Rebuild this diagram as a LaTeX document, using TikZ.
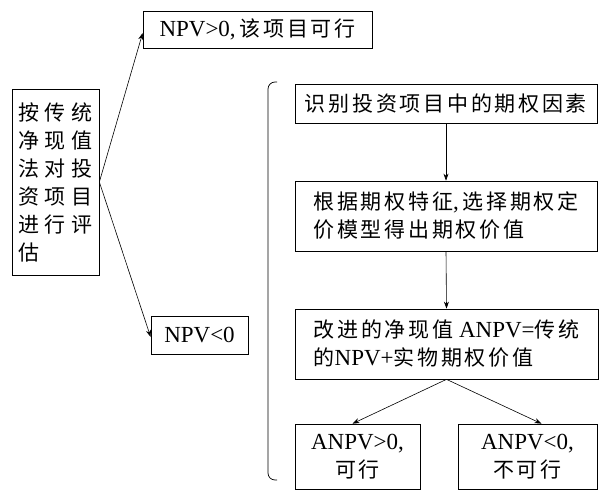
\documentclass[tikz,border=0pt]{standalone}
\usepackage{fontspec}
\setmainfont{Liberation Serif}
\newfontfamily\cjfont[LetterSpace=13]{Noto Sans CJK SC}
\newfontfamily\cjwide[LetterSpace=28]{Noto Sans CJK SC}
\newcommand\zh[1]{{\fontsize{21}{28}\selectfont\cjfont #1}}
\newcommand\zhw[1]{{\fontsize{21}{28.3}\selectfont\cjwide #1}}
\usetikzlibrary{arrows.meta,calc}
\begin{document}
\begin{tikzpicture}[x=1pt,y=-1pt,
  box/.style={draw, line width=0.7pt, inner sep=0pt, align=left,
    font=\fontsize{23}{28}\selectfont},
  arr/.style={-{Stealth[length=7pt,width=5pt]}, line width=0.6pt}]
\useasboundingbox (0,0) rectangle (599,490);

\node[box, minimum width=87, minimum height=186] (L) at (55.5,182)
  {\zhw{按传统}\\\zhw{净现值}\\\zhw{法对投}\\\zhw{资项目}\\\zhw{进行评}\\\zhw{估}};
\node[box, minimum width=229, minimum height=37] (T) at (257.5,29.5)
  {NPV>0,\,\zh{该项目可行}};
\node[box, minimum width=97, minimum height=38] (N) at (199.5,335) {NPV<0};

\node[box, minimum width=302, minimum height=39] (B1) at (446,103.5)
  {\zh{识别投资项目中的期权因素}};
\node[box, minimum width=302, minimum height=70] (B2) at (446,216)
  {\zh{根据期权特征},\,\zh{选择期权定}\\\zh{价模型得出期权价值}};
\node[box, minimum width=303, minimum height=70] (B3) at (446.5,344)
  {\zh{改进的净现值} ANPV=\zh{传统}\\\zh{的}NPV+\zh{实物期权价值}};
\node[box, minimum width=125, minimum height=65, align=center] (B4) at (357.5,456.5)
  {ANPV>0,\\\zh{可行}};
\node[box, minimum width=139, minimum height=65, align=center] (B5) at (527.5,456.5)
  {ANPV<0,\\\zh{不可行}};

\draw[arr] (L.east) -- ([yshift=-3.5pt]T.west);
\draw[arr] (L.east) -- ([yshift=-2pt]N.west);
\draw[arr] (B1.south) -- (B2.north);
\draw[arr] (B2.south) -- (B3.north);
\draw[arr] (B3.south) -- ([xshift=-5pt]B4.north);
\draw[arr] (B3.south) -- ([xshift=14pt]B5.north);

\coordinate (bt) at (277,82);
\coordinate (bb) at (277,480);
\draw[line width=0.7pt, rounded corners=7pt] (bt) -- (268,82) -- (268,480) -- (bb);
\end{tikzpicture}
\end{document}
